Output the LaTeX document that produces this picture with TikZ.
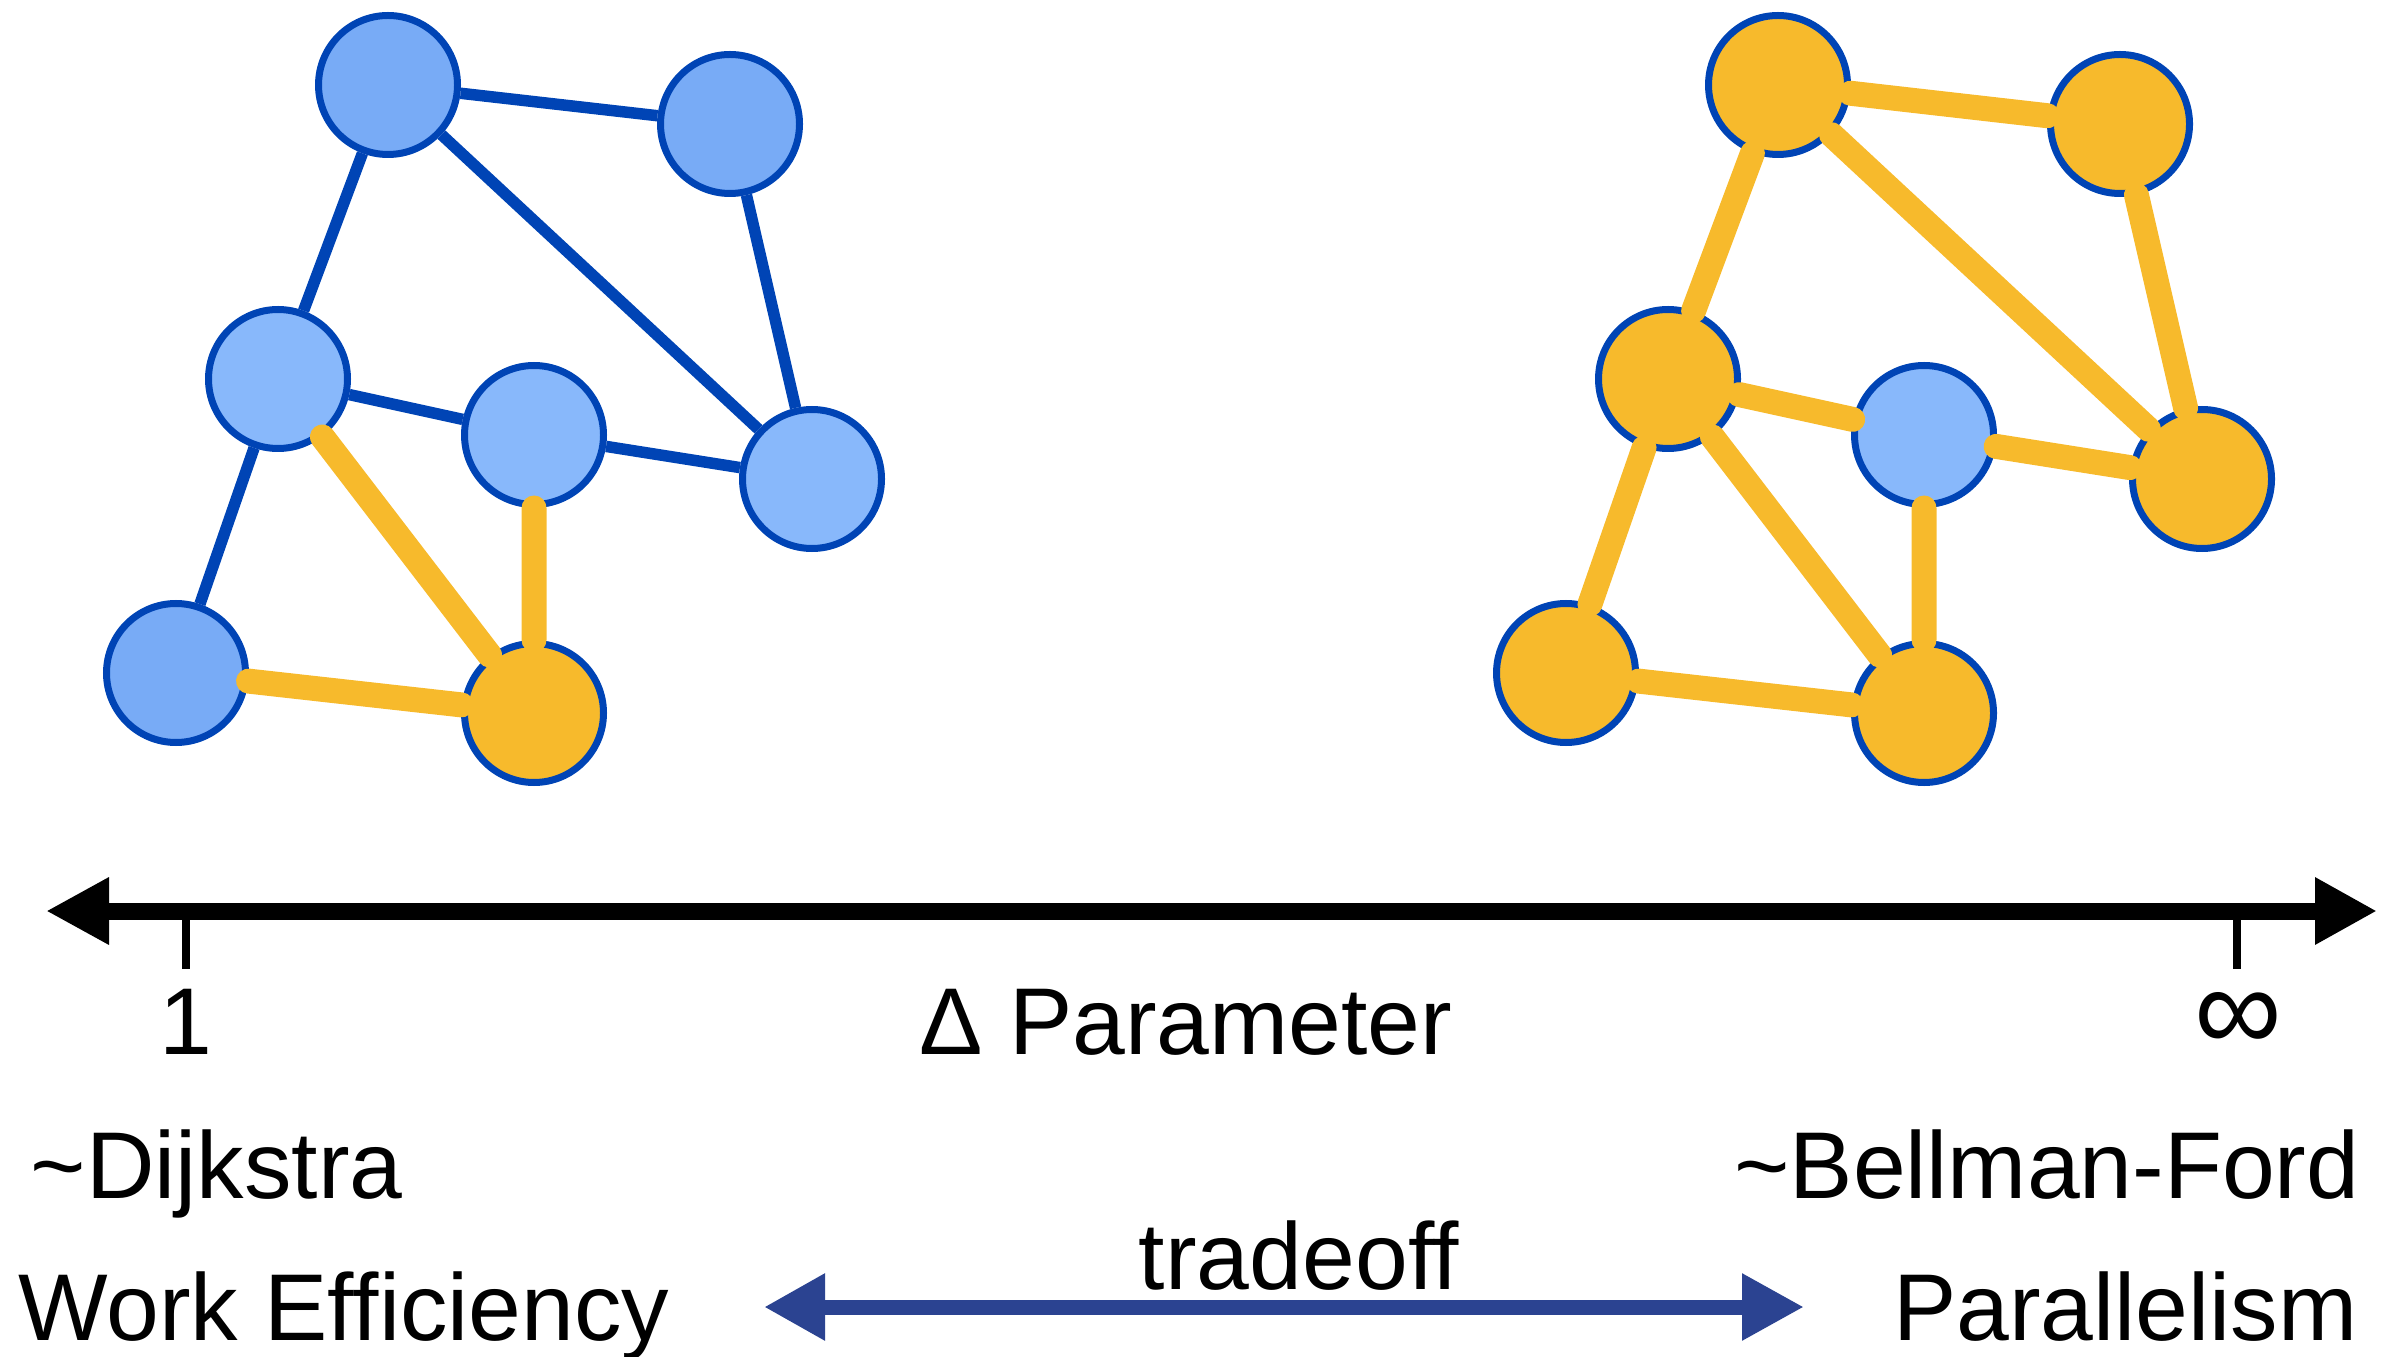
\documentclass[tikz,border=0pt]{standalone}
\usepackage{fontspec}
\setmainfont{Liberation Sans}
\usetikzlibrary{positioning, arrows.meta}
\definecolor{nodeblue}{HTML}{78ABF6}
\definecolor{paleblue}{HTML}{88B8FB}
\definecolor{nodegold}{HTML}{F7BA2C}
\definecolor{rimblue}{HTML}{0044B5}
\definecolor{navyblue}{HTML}{2B4391}
\newcommand{\ticklength}{0,-0.58}
\newcommand{\axisarrow}{{Triangle[length=6.3mm,width=6.3mm]}-{Triangle[length=6.2mm,width=6.3mm]}}
\newcommand{\tradearrow}{{Triangle[length=6.1mm,width=6.3mm]}-{Triangle[length=6.2mm,width=6.3mm]}}
\tikzset{
  vertex/.style={circle, draw=rimblue, line width=0.07cm, minimum size=1.39cm, inner sep=0pt},
  blueedge/.style={draw=rimblue, line width=0.115cm},
  goldedge/.style={draw=nodegold, line width=0.25cm, line cap=round},
  axistext/.style={inner sep=0pt, font=\fontsize{27}{32}\selectfont}
}

\begin{document}
\begin{tikzpicture}
        \useasboundingbox (0,0) rectangle (23.85,13.56);
        % left graph: only one vertex settled
        \node[vertex, fill=nodeblue] (la) at (3.88,12.71) {};
        \node[vertex, fill=nodeblue] (lb) at (7.30,12.32) {};
        \node[vertex, fill=paleblue] (lc) at (2.78,9.77) {};
        \node[vertex, fill=paleblue] (ld) at (5.34,9.21) {};
        \node[vertex, fill=paleblue] (le) at (8.12,8.77) {};
        \node[vertex, fill=nodeblue] (lf) at (1.76,6.83) {};
        \node[vertex, fill=nodegold] (lg) at (5.34,6.43) {};
        \draw[blueedge] (la) -- (lb) (la) -- (lc) (la) -- (le) (lb) -- (le)
        (lc) -- (ld) (ld) -- (le) (lc) -- (lf);
        \draw[goldedge] (lc) -- (lg) (ld) -- (lg) (lf) -- (lg);

        % right graph: almost all settled
        \begin{scope}[xshift=13.9cm]
        \node[vertex, fill=nodegold] (ra) at (3.88,12.71) {};
        \node[vertex, fill=nodegold] (rb) at (7.30,12.32) {};
        \node[vertex, fill=nodegold] (rc) at (2.78,9.77) {};
        \node[vertex, fill=paleblue] (rd) at (5.34,9.21) {};
        \node[vertex, fill=nodegold] (re) at (8.12,8.77) {};
        \node[vertex, fill=nodegold] (rf) at (1.76,6.83) {};
        \node[vertex, fill=nodegold] (rg) at (5.34,6.43) {};
        \end{scope}
        \draw[goldedge] (ra) -- (rb) (ra) -- (rc) (ra) -- (re) (rb) -- (re)
        (rc) -- (rd) (rd) -- (re) (rc) -- (rf) (rc) -- (rg) (rd) -- (rg) (rf) -- (rg);

        % delta axis
        \coordinate (axisleft) at (0.46,4.45);
        \coordinate (axisright) at (23.77,4.45);
        \coordinate (tickone) at (1.86,4.45);
        \coordinate (tickinf) at (22.37,4.45);
        \draw[\axisarrow, line width=0.17cm] (axisleft) -- (axisright);
        \draw[line width=0.08cm] (tickone) -- ++(\ticklength);
        \draw[line width=0.08cm] (tickinf) -- ++(\ticklength);
        \node[axistext, anchor=base] (one) at (1.86,3.02) {1};
        \node[axistext, anchor=base] (delta) at (11.86,3.02) {Δ Parameter};
        \node[axistext, font=\fontsize{35}{40}\selectfont] (infinity) at (22.38,3.34) {∞};

        \node[axistext, anchor=base west] (dijkstra) at (0.30,1.58) {\textasciitilde Dijkstra};
        \node[axistext, anchor=base east] (bellman) at (23.60,1.58) {\textasciitilde Bellman-Ford};
        \node[axistext, anchor=base west] (work) at (0.18,0.16) {Work Efficiency};
        \node[axistext, anchor=base east] (parallel) at (23.58,0.16) {Parallelism};

        \coordinate (tradeleft) at (7.64,0.49);
        \coordinate (traderight) at (18.04,0.49);
        \draw[\tradearrow, navyblue, line width=0.15cm] (tradeleft) -- (traderight);
        \node[axistext, anchor=base] (tradeoff) at (12.99,0.67) {tradeoff};
    \end{tikzpicture}
\end{document}
